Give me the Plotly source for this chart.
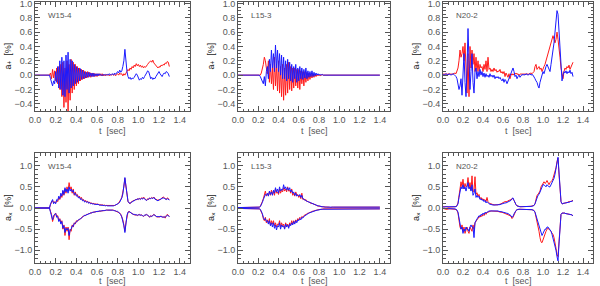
import plotly.graph_objects as go
from plotly.subplots import make_subplots

# ---------------- data (sampled every 0.01 s) ----------------
N1 = 131  # W15-4, N20-2 : 0.00 .. 1.30 s
N2 = 141  # L15-3 : 0.00 .. 1.40 s
t_short = [round(i * 0.01, 2) for i in range(N1)]
t_long = [round(i * 0.01, 2) for i in range(N2)]

models = ["W15-4", "L15-3", "N20-2"]

# top row: a_+ [%]
w15_plus_red = [0,0,0,0,0,0,0,0,0,0,0,0,0,0,0,
    .03,-.05,.08,-.04,.06, -.08,.1,-.12,.12,-.2, .15,-.3,.18,-.45,.1, -.38,.2,-.5,.15,-.35,
    .22,-.25,.18,-.2,.15, -.15,.12,-.12,.1,-.08, .08,-.06,.07,-.05,.05, -.04,.05,-.03,.04,-.03,
    .03,-.02,.03,-.02,.02, -.02,.02,-.01,.02,-.01, .02,-.01,.01,-.01,.01, 0,.01,-.01,.01,0,
    .01,0,.01,-.01,.01, .02,0,.03,.01,.02, -.01,.02,0,.03,.05, .08,.06,.1,.08,.12,
    .1,.14,.12,.16,.13, .15,.12,.14,.11,.13, .1,.12,.11,.14,.15, .17,.19,.2,.18,.21,
    .17,.15,.13,.12,.1, .12,.11,.14,.13,.15, .14,.17,.16,.19,.18, .12]
w15_plus_blue = [0,0,0,0,0,0,0,0,0,0,0,0,0,0,0,
    -.05,-.1,-.15,-.08,-.12, .05,-.1,.12,-.18,.2, -.2,.25,-.28,.2,-.3, .28,-.2,.32,-.25,.22,
    -.18,.2,-.15,.15,-.12, .12,-.1,.1,-.08,.09, -.06,.07,-.05,.05,-.04, .04,-.03,.04,-.02,.03,
    -.02,.03,-.02,.02,-.01, .02,-.01,.02,0,.01, -.01,.01,0,.01,0, .01,0,.02,0,.01,
    .02,0,.03,.01,.04, .05,.03,.07,.04,.06, .12,.2,.36,.15,.05, -.02,-.05,-.03,-.06,-.04,
    -.05,-.03,0,.02,0, -.03,-.07,-.05,-.06,-.03, -.05,-.02,0,.03,.06, .05,0,-.05,-.03,-.06,
    -.04,-.05,-.02,0,.03, .05,.02,0,-.02,.01, .03,.02,.05,.04,.02, -.02]

l15_plus_red = [0,0,0,0,0,0,0,0,0,0,0,0,0,0,0,0,0,0,0,0,
    0,.01,0,.03,.08, .15,.25,.2,.1,.02, .2,-.1,.15,-.12,.1, -.2,.25,-.15,.15,-.22,
    .2,-.25,.12,-.3,.15, -.35,.1,-.28,.15,-.25, .18,-.2,.12,-.22,.1, -.18,.1,-.15,.08,-.18,
    .08,-.2,.06,-.12,.05, -.15,.05,-.1,.04,-.08, .03,-.06,.02,-.04,.02, -.03,.01,-.02,.01,-.01,
    .01,-.01,0,.01,0,
    0,0,0,0,0,0,0,0,0,0,0,0,0,0,0,0,0,0,0,0,0,0,0,0,0,0,0,0,
    0,0,0,0,0,0,0,0,0,0,0,0,0,0,0,0,0,0,0,0,0,0,0,0,0,0,0,0]
l15_plus_blue = [0,0,0,0,0,0,0,0,0,0,0,0,0,0,0,0,0,0,0,0,0,0,
    -.02,-.05,-.08, -.12,-.02,-.15,.05,.12, -.05,.22,.05,.35,.1, .3,.05,.42,.1,.35,
    .05,.3,0,.28,-.05, .25,-.05,.2,-.08,.22, -.05,.18,-.08,.15,-.1, .12,-.05,.15,-.1,.1,
    -.08,.12,-.05,.1,-.06, .08,-.04,.1,-.05,.06, -.03,.05,-.02,.06,-.02, .04,-.01,.03,0,.02,
    0,.01,0,.01,0,
    0,0,0,0,0,0,0,0,0,0,0,0,0,0,0,0,0,0,0,0,0,0,0,0,0,0,0,0,
    0,0,0,0,0,0,0,0,0,0,0,0,0,0,0,0,0,0,0,0,0,0,0,0,0,0,0,0]

n20_plus_red = [.01,.02,.01,.02,.01,.02,.02,.01,.02,.01,.02,.02,.03,.02,.05,
    .1,.2,.35,.25,.3, .4,.2,.45,.1,-.25, .3,-.3,.4,.1,.35, .15,.3,.05,.25,.05,
    .2,.05,.15,.1,.12, .05,.15,.08,.2,.05, .25,.08,.1,.05,.08, .05,.1,.06,.08,.04,
    .06,.05,.08,.03,.05, .02,.05,-.02,.03,0, -.03,.02,-.05,0,.02, 0,.02,.01,.03,.01,
    .02,0,.01,.02,.01, .02,.01,.02,.01,.02, .01,.02,.02,.03,.02, .03,.05,.12,.15,.08,
    .1,.12,.08,.1,.05, .1,.12,.15,.2,.25, .3,.35,.42,.45,.5, .55,.5,.45,.5,.6,
    .5,.4,.25,.1,0, -.05,.05,.1,.08,.12, .1,.14,.08,.12,.15, .18]
n20_plus_blue = [.01,0,.01,.02,.01,0,.02,.01,0,.01,.02,.01,0,-.02,-.05,
    -.12,-.2,-.15,-.05,-.28, .05,.3,-.1,-.3,.1, .65,.2,-.2,.05,.3, -.1,-.25,.05,.1,-.05,
    .05,-.02,.08,0,.05, -.02,.03,-.03,.02,-.02, 0,-.03,.02,-.02,0, -.03,0,-.05,-.02,-.04,
    -.02,-.05,-.03,-.06,-.08, -.05,-.1,-.06,-.08,-.12, -.08,-.05,0,.05,.07, .1,.05,-.02,0,-.05,
    -.02,0,-.03,0,.01, 0,.01,0,.02,.01, 0,.01,.02,0,.01, 0,-.02,-.05,-.08,-.1,
    -.15,-.18,-.1,-.05,0, .05,.02,.08,.12,.15, .12,.08,.05,.15,.25, .3,.45,.6,.75,.9,
    .85,.6,.35,.1,-.08, 0,.05,.03,.06,.02, .05,.03,.07,.02,.04, -.02]

# bottom row: a_x [%]  (upper and lower envelopes)
w15_up_red = [0,0,0,0,0,0,0,0,0,0,0,0,0,0,0,
    .08,.12,.18,.12,.15, .12,.18,.15,.25,.2, .3,.25,.4,.3,.45, .35,.5,.4,.6,.45,
    .5,.35,.45,.3,.38, .3,.32,.25,.28,.22, .25,.18,.2,.15,.18, .14,.16,.12,.14,.1,
    .12,.1,.11,.09,.1, .08,.1,.07,.08,.07, .08,.06,.07,.06,.06, .05,.06,.05,.05,.05,
    .05,.06,.06,.07,.08, .1,.12,.15,.2,.25, .35,.5,.7,.5,.25, .15,.12,.1,.14,.15,
    .18,.17,.2,.19,.22, .2,.23,.21,.24,.22, .26,.22,.2,.18,.22, .2,.24,.22,.25,.23,
    .26,.22,.2,.19,.18, .2,.19,.22,.24,.26, .25,.22,.2,.24,.22, .2]
w15_up_blue = [0,0,0,0,0,0,0,0,0,0,0,0,0,0,0,
    .1,.15,.2,.1,.14, .1,.2,.18,.28,.22, .35,.28,.42,.32,.48, .38,.45,.35,.5,.4,
    .45,.38,.42,.32,.35, .28,.3,.24,.26,.2, .22,.17,.19,.14,.16, .13,.15,.11,.13,.1,
    .11,.09,.1,.08,.09, .08,.09,.07,.07,.06, .07,.06,.06,.05,.06, .05,.05,.05,.04,.05,
    .05,.05,.06,.07,.08, .09,.11,.14,.19,.24, .33,.48,.72,.52,.27, .16,.12,.11,.13,.15,
    .17,.18,.19,.2,.21, .21,.22,.2,.23,.21, .24,.21,.19,.18,.2, .21,.23,.22,.24,.22,
    .25,.21,.2,.18,.17, .19,.2,.21,.23,.24, .23,.21,.2,.22,.21, .19]
w15_lo_red = [0,0,0,0,0,0,0,0,0,0,0,0,0,0,0,
    -.08,-.15,-.32,-.2,-.15, -.12,-.2,-.18,-.3,-.25, -.35,-.3,-.5,-.4,-.65, -.45,-.55,-.45,-.75,-.5,
    -.55,-.4,-.45,-.35,-.38, -.3,-.32,-.28,-.28,-.25, -.24,-.2,-.2,-.17,-.18, -.15,-.15,-.13,-.13,-.11,
    -.12,-.1,-.1,-.09,-.09, -.08,-.09,-.07,-.08,-.07, -.07,-.06,-.06,-.06,-.05, -.05,-.05,-.05,-.04,-.05,
    -.05,-.05,-.06,-.07,-.08, -.09,-.1,-.12,-.15,-.2, -.28,-.4,-.55,-.35,-.18, -.1,-.08,-.09,-.12,-.14,
    -.15,-.16,-.17,-.16,-.18, -.17,-.15,-.17,-.16,-.18, -.2,-.18,-.17,-.15,-.17, -.2,-.22,-.18,-.2,-.17,
    -.15,-.17,-.2,-.22,-.2, -.22,-.2,-.19,-.21,-.22, -.2,-.24,-.18,-.15,-.17, -.2]
w15_lo_blue = [0,0,0,0,0,0,0,0,0,0,0,0,0,0,0,
    -.1,-.18,-.28,-.18,-.14, -.13,-.22,-.2,-.32,-.27, -.38,-.32,-.48,-.42,-.58, -.48,-.52,-.48,-.65,-.52,
    -.5,-.42,-.44,-.36,-.36, -.32,-.3,-.29,-.26,-.26, -.22,-.21,-.19,-.18,-.17, -.15,-.14,-.13,-.12,-.12,
    -.11,-.1,-.1,-.09,-.08, -.08,-.08,-.07,-.07,-.07, -.06,-.06,-.06,-.05,-.05, -.05,-.05,-.04,-.05,-.05,
    -.05,-.06,-.06,-.07,-.08, -.08,-.1,-.12,-.16,-.21, -.3,-.42,-.58,-.36,-.17, -.1,-.09,-.1,-.12,-.13,
    -.15,-.15,-.16,-.17,-.17, -.16,-.16,-.17,-.17,-.18, -.19,-.17,-.16,-.16,-.17, -.19,-.21,-.19,-.2,-.18,
    -.16,-.17,-.19,-.21,-.2, -.21,-.2,-.2,-.21,-.22, -.21,-.22,-.19,-.17,-.18, -.21]

l15_up_red = [.01,.01,.01,.01,.01,.01,.01,.01,.01,.01,.01,.01,.01,.01,.01,.01,.01,.01,.01,.01,
    .01,.02,.04,.08,.15, .22,.3,.4,.28,.32, .3,.38,.3,.42,.32, .4,.3,.45,.35,.38,
    .32,.45,.35,.42,.38, .48,.4,.45,.38,.5, .4,.42,.35,.45,.3, .35,.28,.38,.3,.32,
    .25,.3,.22,.35,.2, .22,.18,.2,.15,.16, .13,.14,.1,.12,.09, .1,.07,.08,.05,.05,
    .04,.04,.03,.03,.03,
    .02,.02,.03,.02,.02,.02,.01,.02,.02,.02,.02,.01,.02,.02,.02,.02,.02,.01,.02,.02,.02,.02,.02,.02,.01,.02,.02,.02,
    .02,.02,.02,.01,.02,.02,.02,.02,.02,.02,.02,.01,.02,.02,.02,.02,.02,.02,.01,.02,.02,.02,.02,.02,.02,.02,.02,.02]
l15_up_blue = [.01,.01,.01,.01,.01,.01,.01,.01,.01,.01,.01,.01,.01,.01,.01,.01,.01,.01,.01,.01,
    .01,.02,.03,.07,.13, .2,.28,.32,.3,.35, .28,.4,.32,.38,.3, .42,.35,.48,.38,.45,
    .35,.5,.4,.45,.42, .55,.45,.5,.42,.48, .42,.48,.38,.42,.35, .38,.3,.35,.28,.3,
    .28,.32,.25,.3,.22, .2,.2,.18,.16,.15, .14,.12,.11,.1,.09, .08,.07,.07,.06,.05,
    .05,.04,.04,.03,.03,
    .02,.02,.02,.02,.02,.02,.02,.02,.02,.02,.02,.02,.02,.02,.02,.02,.02,.02,.02,.02,.02,.02,.02,.02,.02,.02,.02,.02,
    .02,.02,.02,.02,.02,.02,.02,.02,.02,.02,.02,.02,.02,.02,.02,.02,.02,.02,.02,.02,.02,.02,.02,.02,.02,.02,.02,.02]
l15_lo_red = [-.01,-.01,-.01,-.01,-.01,-.01,-.01,-.01,-.01,-.01,-.01,-.01,-.01,-.01,-.01,-.01,-.01,-.01,-.01,-.01,
    -.01,-.02,-.04,-.08,-.15, -.25,-.3,-.22,-.35,-.28, -.35,-.25,-.4,-.3,-.38, -.3,-.42,-.35,-.45,-.38,
    -.4,-.3,-.45,-.35,-.42, -.38,-.48,-.35,-.42,-.38, -.45,-.35,-.4,-.3,-.38, -.3,-.35,-.28,-.32,-.25,
    -.28,-.22,-.25,-.2,-.22, -.18,-.17,-.15,-.14,-.12, -.12,-.1,-.1,-.08,-.08, -.07,-.06,-.06,-.05,-.04,
    -.04,-.03,-.03,-.03,-.02,
    -.02,-.02,-.02,-.02,-.02,-.02,-.02,-.02,-.02,-.02,-.02,-.02,-.02,-.02,-.02,-.02,-.02,-.02,-.02,-.02,-.02,-.02,-.02,-.02,-.02,-.02,-.02,-.02,
    -.02,-.02,-.02,-.02,-.02,-.02,-.02,-.02,-.02,-.02,-.02,-.02,-.02,-.02,-.02,-.02,-.02,-.02,-.02,-.02,-.02,-.02,-.02,-.02,-.02,-.02,-.02,-.02]
l15_lo_blue = [-.01,-.01,-.01,-.01,-.01,-.01,-.01,-.01,-.01,-.01,-.01,-.01,-.01,-.01,-.01,-.01,-.01,-.01,-.01,-.01,
    -.01,-.02,-.03,-.07,-.13, -.22,-.28,-.25,-.32,-.3, -.38,-.3,-.42,-.35,-.45, -.35,-.48,-.4,-.52,-.42,
    -.45,-.35,-.5,-.4,-.45, -.42,-.5,-.38,-.45,-.4, -.48,-.38,-.42,-.35,-.4, -.32,-.38,-.3,-.35,-.28,
    -.3,-.25,-.28,-.22,-.24, -.2,-.18,-.16,-.15,-.13, -.12,-.11,-.1,-.09,-.08, -.07,-.06,-.06,-.05,-.05,
    -.04,-.04,-.03,-.03,-.03,
    -.02,-.02,-.02,-.02,-.02,-.02,-.02,-.02,-.02,-.02,-.02,-.02,-.02,-.02,-.02,-.02,-.02,-.02,-.02,-.02,-.02,-.02,-.02,-.02,-.02,-.02,-.02,-.02,
    -.02,-.02,-.02,-.02,-.02,-.02,-.02,-.02,-.02,-.02,-.02,-.02,-.02,-.02,-.02,-.02,-.02,-.02,-.02,-.02,-.02,-.02,-.02,-.02,-.02,-.02,-.02,-.02]

n20_up_red = [.03,.03,.04,.03,.03,.02,.02,.02,.02,.02,.02,.02,.03,.04,.06,
    .12,.3,.48,.62,.5, .68,.45,.58,.5,.52, .72,.48,.6,.42,.76, .38,.42,.74,.32,.36,
    .28,.32,.22,.25,.2, .22,.18,.2,.15,.25, .15,.12,.1,.1,.08, .08,.08,.07,.08,.07,
    .08,.08,.09,.1,.12, .13,.14,.15,.15,.15, .17,.18,.18,.2,.22, .22,.18,.12,.08,.05,
    .04,.03,.03,.03,.03, .03,.03,.03,.03,.03, .03,.04,.04,.04,.05, .05,.06,.1,.2,.3,
    .32,.35,.4,.5,.55, .6,.62,.58,.6,.65, .6,.55,.6,.62,.65, .7,.78,.85,.95,1.1,
    1.18,.8,.4,.15,.1, .1,.12,.11,.13,.12, .15,.14,.16,.15,.17, .18]
n20_up_blue = [.03,.02,.03,.03,.02,.02,.02,.02,.02,.02,.02,.02,.02,.03,.05,
    .1,.25,.45,.5,.45, .55,.45,.5,.4,.5, .6,.45,.5,.4,.55, .3,.35,.45,.25,.3,
    .25,.28,.2,.22,.18, .2,.15,.18,.12,.15, .12,.1,.09,.08,.07, .07,.07,.07,.07,.07,
    .07,.08,.08,.09,.1, .1,.11,.12,.12,.13, .14,.15,.16,.18,.22, .24,.18,.12,.08,.05,
    .04,.03,.03,.03,.03, .03,.03,.03,.03,.03, .03,.03,.04,.04,.04, .05,.06,.1,.18,.28,
    .3,.32,.38,.45,.5, .55,.55,.52,.5,.55, .52,.5,.5,.55,.58, .62,.7,.8,.95,1.1,
    1.2,.85,.45,.15,.1, .1,.12,.11,.13,.12, .14,.13,.15,.15,.16, .17]
n20_lo_red = [-.01,-.02,-.02,-.03,-.03,-.02,-.02,-.02,-.02,-.02,-.02,-.02,-.03,-.04,-.06,
    -.12,-.3,-.45,-.5,-.4, -.55,-.45,-.6,-.5,-.45, -.55,-.6,-.45,-.5,-.55, -.4,-.5,-.35,-.3,-.28,
    -.25,-.2,-.22,-.18,-.2, -.15,-.18,-.12,-.15,-.1, -.1,-.08,-.08,-.07,-.07, -.07,-.07,-.07,-.08,-.08,
    -.08,-.09,-.1,-.1,-.1, -.11,-.12,-.12,-.13,-.14, -.15,-.17,-.18,-.2,-.25, -.22,-.15,-.1,-.06,-.04,
    -.03,-.03,-.03,-.03,-.03, -.03,-.03,-.03,-.03,-.03, -.03,-.03,-.04,-.04,-.04, -.05,-.06,-.1,-.2,-.3,
    -.4,-.55,-.7,-.8,-.82, -.75,-.65,-.6,-.55,-.5, -.48,-.5,-.52,-.55,-.6, -.62,-.7,-.8,-.95,-1.1,
    -1.15,-.8,-.4,-.15,-.12, -.12,-.13,-.12,-.14,-.13, -.15,-.14,-.16,-.15,-.17, -.18]
n20_lo_blue = [-.01,-.01,-.02,-.02,-.02,-.02,-.02,-.02,-.02,-.02,-.02,-.02,-.02,-.03,-.05,
    -.1,-.25,-.4,-.5,-.45, -.6,-.5,-.55,-.45,-.5, -.5,-.55,-.45,-.4,-.45, -.45,-.7,-.35,-.3,-.25,
    -.22,-.18,-.2,-.15,-.17, -.12,-.15,-.1,-.12,-.1, -.08,-.07,-.07,-.07,-.06, -.06,-.06,-.07,-.07,-.07,
    -.07,-.08,-.08,-.09,-.09, -.1,-.1,-.11,-.12,-.12, -.13,-.15,-.16,-.18,-.22, -.2,-.14,-.09,-.06,-.04,
    -.03,-.03,-.03,-.03,-.03, -.03,-.03,-.03,-.03,-.03, -.03,-.03,-.04,-.04,-.04, -.05,-.06,-.1,-.18,-.28,
    -.35,-.45,-.55,-.62,-.65, -.6,-.55,-.5,-.5,-.45, -.45,-.48,-.5,-.55,-.62, -.7,-.8,-.9,-1.0,-1.15,
    -1.25,-.85,-.4,-.15,-.12, -.12,-.13,-.12,-.14,-.13, -.15,-.14,-.16,-.15,-.17, -.18]

top_series = [
    (t_short, w15_plus_red, w15_plus_blue),
    (t_long, l15_plus_red, l15_plus_blue),
    (t_short, n20_plus_red, n20_plus_blue),
]
bottom_series = [
    (t_short, [w15_up_red, w15_lo_red], [w15_up_blue, w15_lo_blue]),
    (t_long, [l15_up_red, l15_lo_red], [l15_up_blue, l15_lo_blue]),
    (t_short, [n20_up_red, n20_lo_red], [n20_up_blue, n20_lo_blue]),
]

# ---------------- figure ----------------
RED = "#ff1a1a"
BLUE = "#1a1aff"
FONT = "Liberation Sans"
TXT = "#555"

fig = make_subplots(rows=2, cols=3)

for c, (t, r, b) in enumerate(top_series, start=1):
    fig.add_trace(go.Scatter(x=t, y=r, mode="lines", line=dict(color=RED, width=1)), row=1, col=c)
    fig.add_trace(go.Scatter(x=t, y=b, mode="lines", line=dict(color=BLUE, width=1)), row=1, col=c)
for c, (t, rs, bs) in enumerate(bottom_series, start=1):
    for r in rs:
        fig.add_trace(go.Scatter(x=t, y=r, mode="lines", line=dict(color=RED, width=1)), row=2, col=c)
    for b in bs:
        fig.add_trace(go.Scatter(x=t, y=b, mode="lines", line=dict(color=BLUE, width=1)), row=2, col=c)

W, H = 600, 286
xdom_px = [(35, 190), (238, 390), (443, 593)]
ydom_px = [(2, 111), (153, 263)]
xtitle_y_px = [131, 281]
ytitle_x_px = [8, 211, 416]

axis_common = dict(
    showgrid=False, zeroline=False, showline=True, linecolor="#555", linewidth=1,
    mirror="allticks", ticks="inside", ticklen=5, tickcolor="#555",
    tickfont=dict(family=FONT, size=9, color=TXT), tickformat=".1f", automargin=False,
    ticklabeloverflow="allow",
)

for row in (1, 2):
    for col in (1, 2, 3):
        x0, x1 = xdom_px[col - 1]
        ytop, ybot = ydom_px[row - 1]
        fig.update_xaxes(
            domain=[x0 / W, x1 / W], range=[0, 1.5], dtick=0.2, tick0=0,
            minor=dict(dtick=0.05, ticks="inside", ticklen=2.5, tickcolor="#555"),
            row=row, col=col, **axis_common)
        if row == 1:
            yr, yd, ym = [-0.5, 1.02], 0.2, 0.05
            ylab = "a<sub>+</sub>  [%]"
        else:
            yr, yd, ym = [-1.3, 1.3], 0.5, 0.1
            ylab = "a<sub>×</sub>  [%]"
        fig.update_yaxes(
            domain=[1 - ybot / H, 1 - ytop / H], range=yr, dtick=yd, tick0=0,
            minor=dict(dtick=ym, ticks="inside", ticklen=2.5, tickcolor="#555"),
            row=row, col=col, **axis_common)
        # axis titles
        fig.add_annotation(
            text="t  [sec]", xref="paper", yref="paper",
            x=(x0 + x1) / 2 / W, y=1 - xtitle_y_px[row - 1] / H,
            xanchor="center", yanchor="middle", showarrow=False,
            font=dict(family=FONT, size=9, color=TXT))
        fig.add_annotation(
            text=ylab, xref="paper", yref="paper", textangle=-90,
            x=ytitle_x_px[col - 1] / W, y=1 - (ytop + ybot) / 2 / H,
            xanchor="center", yanchor="middle", showarrow=False,
            font=dict(family=FONT, size=9, color="#222"))

# model labels inside each panel
k = 0
for row in (1, 2):
    for col in (1, 2, 3):
        k += 1
        xr = "x domain" if k == 1 else f"x{k} domain"
        yr_ = "y domain" if k == 1 else f"y{k} domain"
        fig.add_annotation(
            text=models[col - 1], xref=xr, yref=yr_, x=0.07, y=0.88,
            xanchor="left", yanchor="middle", showarrow=False,
            font=dict(family=FONT, size=8, color=TXT))

fig.update_layout(
    width=W, height=H, margin=dict(l=0, r=0, t=0, b=0),
    paper_bgcolor="white", plot_bgcolor="white", showlegend=False,
)

fig.write_html("out.html", config={"displayModeBar": False},
               post_script="document.body.style.margin='0';document.body.style.padding='0';")
